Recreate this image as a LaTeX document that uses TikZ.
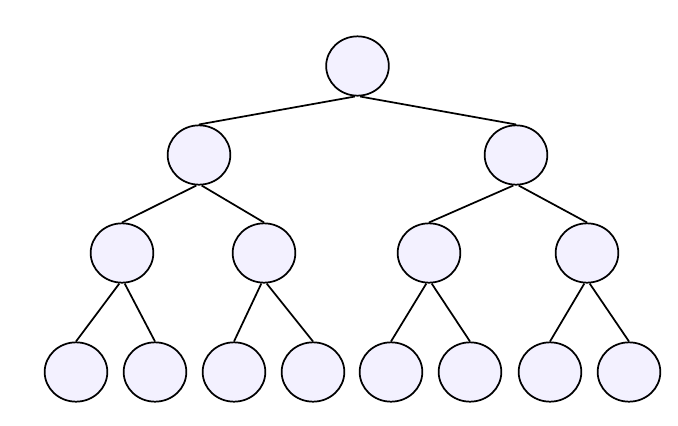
\documentclass[tikz,border=0pt]{standalone}
\usetikzlibrary{shapes.geometric}
\definecolor{nodefill}{RGB}{243,241,255}
\begin{document}
\begin{tikzpicture}[x=0.75pt,y=-0.75pt,
  tnode/.style={ellipse,draw=black,fill=nodefill,line width=1.3pt,minimum width=47pt,minimum height=44.5pt,inner sep=0pt},
  tedge/.style={draw=black,line width=1.3pt}]
\useasboundingbox (0,0) rectangle (678,425);
\node[tnode] (r) at (357.5,66) {};
\node[tnode] (a) at (199,155) {};
\node[tnode] (b) at (516,155) {};
\node[tnode] (aa) at (122,253) {};
\node[tnode] (ab) at (264,253) {};
\node[tnode] (ba) at (429,253) {};
\node[tnode] (bb) at (587,253) {};
\node[tnode] (aaa) at (76,372) {};
\node[tnode] (aab) at (155,372) {};
\node[tnode] (aba) at (234,372) {};
\node[tnode] (abb) at (313,372) {};
\node[tnode] (baa) at (391,372) {};
\node[tnode] (bab) at (470,372) {};
\node[tnode] (bba) at (550,372) {};
\node[tnode] (bbb) at (629,372) {};
\foreach \p/\c/\s in {r/a/-1,r/b/1,a/aa/-1,a/ab/1,b/ba/-1,b/bb/1,aa/aaa/-1,aa/aab/1,ab/aba/-1,ab/abb/1,ba/baa/-1,ba/bab/1,bb/bba/-1,bb/bbb/1}{
  \draw[tedge] ([xshift=\s*2pt]\p.south) -- (\c.north);
}
\end{tikzpicture}
\end{document}
